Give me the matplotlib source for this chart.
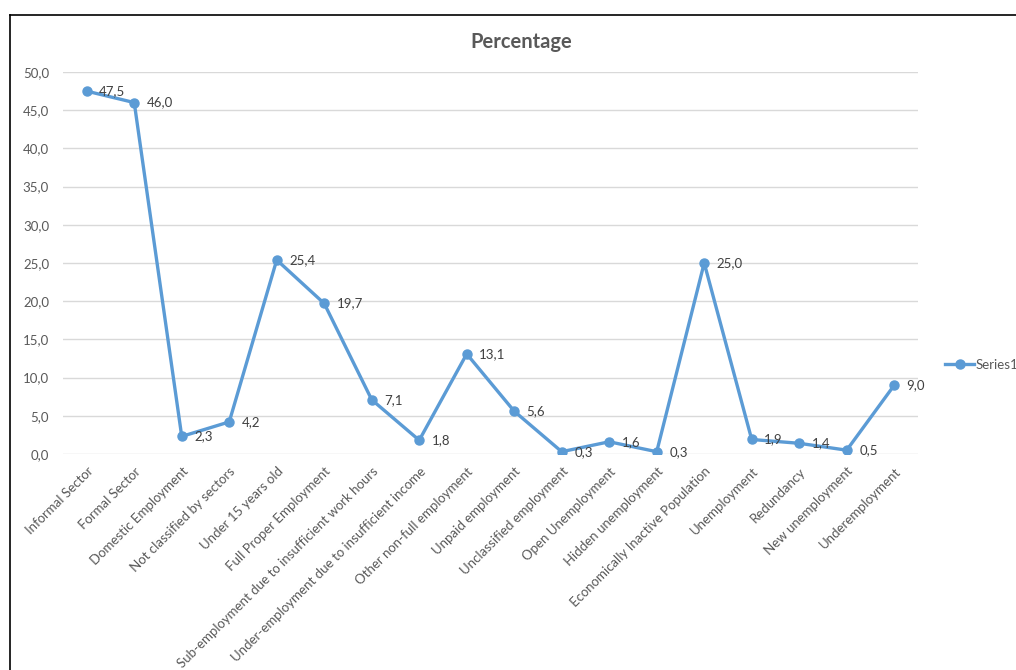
import matplotlib.pyplot as plt
from matplotlib.lines import Line2D

categories = [
    'Informal Sector', 'Formal Sector', 'Domestic Employment',
    'Not classified by sectors', 'Under 15 years old', 'Full Proper Employment',
    'Sub-employment due to insufficient work hours',
    'Under-employment due to insufficient income',
    'Other non-full employment', 'Unpaid employment',
    'Unclassified employment', 'Open Unemployment', 'Hidden unemployment',
    'Economically Inactive Population', 'Unemployment', 'Redundancy',
    'New unemployment', 'Underemployment',
]
values = [47.5, 46.0, 2.3, 4.2, 25.4, 19.7, 7.1, 1.8, 13.1, 5.6,
          0.3, 1.6, 0.3, 25.0, 1.9, 1.4, 0.5, 9.0]
yticks = [0, 5, 10, 15, 20, 25, 30, 35, 40, 45, 50]

plt.rcParams['font.family'] = ['Lato', 'DejaVu Sans']
text_col = '#595959'
line_col = '#5B9BD5'

fig = plt.figure(figsize=(10.16, 6.70), dpi=100)
ax = fig.add_axes([0.062, 0.3224, 0.8415, 0.5701])

x = list(range(len(categories)))
ax.plot(x, values, color=line_col, lw=2.4, marker='o', ms=6.5,
        label='Series1', solid_joinstyle='round')
for xi, v in zip(x, values):
    ax.annotate(f'{v:.1f}'.replace('.', ','), (xi, v), xytext=(9, 0),
                textcoords='offset points', ha='left', va='center',
                fontsize=9.5, color='#404040')

ax.set_xlim(-0.5, len(categories) - 0.5)
ax.set_ylim(0, 50)
ax.set_yticks(yticks)
ax.set_yticklabels([f'{t:.1f}'.replace('.', ',') for t in yticks])
ax.set_xticks(x)
ax.set_xticklabels(categories, rotation=45, ha='right', rotation_mode='anchor')
ax.tick_params(axis='both', length=0, colors=text_col, labelsize=9.5)
ax.tick_params(axis='x', pad=8)
ax.tick_params(axis='y', pad=10)
ax.grid(axis='y', color='#D9D9D9', lw=1)
ax.set_axisbelow(True)
for s in ax.spines.values():
    s.set_visible(False)

fig.text(0.513, 0.937, 'Percentage', ha='center', va='center',
         fontsize=14.5, fontweight='bold', color=text_col)

fig.legend(loc='center left', bbox_to_anchor=(0.925, 1 - 365 / 670),
           frameon=False, fontsize=9.5, labelcolor=text_col,
           handlelength=2.2, handletextpad=0.1, borderaxespad=0)

# chart frame (left and top edges visible)
fig.add_artist(Line2D([10 / 1016, 10 / 1016], [0, 1 - 15 / 670],
                      transform=fig.transFigure, color='black', lw=1.2))
fig.add_artist(Line2D([10 / 1016, 1], [1 - 15 / 670, 1 - 15 / 670],
                      transform=fig.transFigure, color='black', lw=1.2))

fig.savefig('out.png', dpi=100)
